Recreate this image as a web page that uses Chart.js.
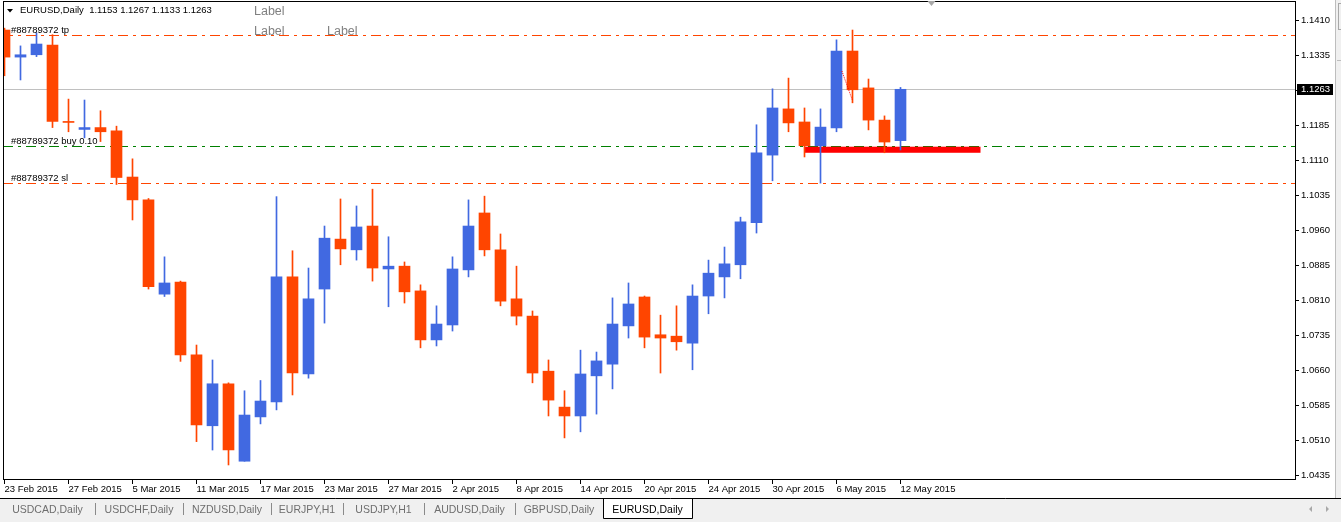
<!DOCTYPE html>
<html>
<head>
<meta charset="utf-8">
<title>EURUSD,Daily</title>
<script src="https://cdn.jsdelivr.net/npm/chart.js@4.4.0/dist/chart.umd.min.js"></script>
<style>
  html, body { margin: 0; padding: 0; background: #fff; }
  #chart { display: block; }
</style>
</head>
<body>
<canvas id="chart" width="1341" height="522"></canvas>
<script>
// ---------------- Data ----------------
const dates = [
  "23 Feb 2015", "24 Feb 2015", "25 Feb 2015", "26 Feb 2015", "27 Feb 2015",
  "2 Mar 2015", "3 Mar 2015", "4 Mar 2015", "5 Mar 2015", "6 Mar 2015",
  "9 Mar 2015", "10 Mar 2015", "11 Mar 2015", "12 Mar 2015", "13 Mar 2015",
  "16 Mar 2015", "17 Mar 2015", "18 Mar 2015", "19 Mar 2015", "20 Mar 2015",
  "23 Mar 2015", "24 Mar 2015", "25 Mar 2015", "26 Mar 2015", "27 Mar 2015",
  "30 Mar 2015", "31 Mar 2015", "1 Apr 2015", "2 Apr 2015", "3 Apr 2015",
  "6 Apr 2015", "7 Apr 2015", "8 Apr 2015", "9 Apr 2015", "10 Apr 2015",
  "13 Apr 2015", "14 Apr 2015", "15 Apr 2015", "16 Apr 2015", "17 Apr 2015",
  "20 Apr 2015", "21 Apr 2015", "22 Apr 2015", "23 Apr 2015", "24 Apr 2015",
  "27 Apr 2015", "28 Apr 2015", "29 Apr 2015", "30 Apr 2015", "1 May 2015",
  "4 May 2015", "5 May 2015", "6 May 2015", "7 May 2015", "8 May 2015",
  "11 May 2015", "12 May 2015"
];

const opens = [
  1.1390, 1.1332, 1.1337, 1.1358, 1.1194, 1.1177, 1.1181, 1.1174, 1.1075, 1.1026,
  1.0824, 1.0850, 1.0694, 1.0542, 1.0632, 1.0466, 1.0561, 1.0593, 1.0861, 1.0653,
  1.0835, 1.0942, 1.0919, 1.0970, 1.0878, 1.0884, 1.0831, 1.0726, 1.0758, 1.0876,
  1.0998, 1.0919, 1.0814, 1.0777, 1.0659, 1.0582, 1.0563, 1.0649, 1.0674, 1.0756,
  1.0818, 1.0737, 1.0734, 1.0719, 1.0820, 1.0861, 1.0887, 1.0977, 1.1122, 1.1221,
  1.1193, 1.1142, 1.1180, 1.1345, 1.1266, 1.1197, 1.1153
];
const highs = [
  1.1394, 1.1356, 1.1384, 1.1380, 1.1242, 1.1240, 1.1217, 1.1184, 1.1114, 1.1029,
  1.0904, 1.0852, 1.0715, 1.0683, 1.0634, 1.0617, 1.0639, 1.1033, 1.0917, 1.0880,
  1.0970, 1.1028, 1.1013, 1.1049, 1.0947, 1.0893, 1.0844, 1.0799, 1.0904, 1.1026,
  1.1034, 1.0953, 1.0884, 1.0788, 1.0683, 1.0617, 1.0704, 1.0700, 1.0816, 1.0848,
  1.0820, 1.0779, 1.0799, 1.0844, 1.0897, 1.0925, 1.0989, 1.1187, 1.1264, 1.1287,
  1.1223, 1.1221, 1.1369, 1.1390, 1.1285, 1.1206, 1.1267
];
const lows = [
  1.1292, 1.1283, 1.1333, 1.1181, 1.1172, 1.1159, 1.1151, 1.1059, 1.0983, 1.0835,
  1.0819, 1.0680, 1.0508, 1.0490, 1.0458, 1.0466, 1.0546, 1.0576, 1.0608, 1.0644,
  1.0762, 1.0887, 1.0897, 1.0852, 1.0797, 1.0805, 1.0709, 1.0713, 1.0745, 1.0861,
  1.0906, 1.0799, 1.0758, 1.0634, 1.0563, 1.0516, 1.0529, 1.0567, 1.0621, 1.0730,
  1.0709, 1.0655, 1.0704, 1.0662, 1.0782, 1.0816, 1.0857, 1.0955, 1.1067, 1.1172,
  1.1118, 1.1062, 1.1172, 1.1234, 1.1176, 1.1127, 1.1133
];
const closes = [
  1.1332, 1.1337, 1.1360, 1.1194, 1.1192, 1.1181, 1.1172, 1.1074, 1.1026, 1.0840,
  1.0848, 1.0694, 1.0544, 1.0632, 1.0490, 1.0565, 1.0595, 1.0861, 1.0655, 1.0814,
  1.0944, 1.0921, 1.0968, 1.0880, 1.0884, 1.0829, 1.0726, 1.0760, 1.0878, 1.0970,
  1.0919, 1.0809, 1.0777, 1.0655, 1.0597, 1.0563, 1.0653, 1.0681, 1.0760, 1.0803,
  1.0732, 1.0730, 1.0722, 1.0820, 1.0869, 1.0889, 1.0979, 1.1127, 1.1223, 1.1191,
  1.1142, 1.1182, 1.1345, 1.1262, 1.1197, 1.1150, 1.1263
];

// price axis labels (1.1260 sits under the last price tag)
const yTicks = [
  1.0435, 1.0510, 1.0585, 1.0660, 1.0735, 1.0810, 1.0885,
  1.0960, 1.1035, 1.1110, 1.1185, 1.1260, 1.1335, 1.1410
];

// order levels
const tpPrice = 1.1379;
const buyPrice = 1.1141;
const slPrice = 1.1062;
const lastPrice = 1.1263;

// rectangle object and trade line (bar index, price)
const boxBars = [50, 61];
const boxPrices = [1.1127, 1.1140];
const tradeBars = [52.34, 52.99];
const tradePrices = [1.1302, 1.1240];

const tabNames = ["USDCAD,Daily", "USDCHF,Daily", "NZDUSD,Daily", "EURJPY,H1",
  "USDJPY,H1", "AUDUSD,Daily", "GBPUSD,Daily", "EURUSD,Daily"];
const tabEdges = [0, 95, 183, 271, 343, 424, 515, 603, 692];

const BULL = "#4169E1";
const BEAR = "#FF4500";
const FONT = "'Liberation Sans', Arial, sans-serif";

const colors = opens.map((o, i) => (closes[i] >= o ? BULL : BEAR));

// ---------------- Overlay drawing ----------------
const overlay = {
  id: "overlay",
  beforeDatasetsDraw(chart) {
    const { ctx, chartArea: a, scales: { x, y } } = chart;
    ctx.save();
    ctx.beginPath();
    ctx.rect(a.left, a.top, a.width, a.height);
    ctx.clip();

    const hLine = (price, color, dash) => {
      const py = Math.round(y.getPixelForValue(price)) + 0.5;
      ctx.strokeStyle = color;
      ctx.lineWidth = 1;
      ctx.setLineDash(dash);
      ctx.beginPath();
      ctx.moveTo(a.left, py);
      ctx.lineTo(a.right, py);
      ctx.stroke();
    };
    hLine(lastPrice, "#C0C0C0", []);
    hLine(tpPrice, "#FF4500", [10, 5, 3, 5]);
    hLine(buyPrice, "#008000", [10, 5, 3, 5]);
    hLine(slPrice, "#FF4500", [10, 5, 3, 5]);
    ctx.setLineDash([]);

    // red rectangle
    const x0 = x.getPixelForValue(boxBars[0]);
    const x1 = x.getPixelForValue(boxBars[1]);
    const y0 = y.getPixelForValue(boxPrices[1]);
    const y1 = y.getPixelForValue(boxPrices[0]);
    ctx.fillStyle = "#FF0000";
    ctx.fillRect(x0, y0, x1 - x0, y1 - y0);
    ctx.restore();
  },
  afterDatasetsDraw(chart) {
    const { ctx, scales: { x, y } } = chart;
    // dotted trade line
    ctx.save();
    ctx.strokeStyle = "#FF0000";
    ctx.setLineDash([1, 1]);
    ctx.beginPath();
    ctx.moveTo(x.getPixelForValue(tradeBars[0]), y.getPixelForValue(tradePrices[0]));
    ctx.lineTo(x.getPixelForValue(tradeBars[1]), y.getPixelForValue(tradePrices[1]));
    ctx.stroke();
    ctx.restore();
  },
  afterDraw(chart) {
    const { ctx, chartArea: a, scales: { y } } = chart;
    const W = chart.width, H = chart.height;
    ctx.save();

    // frame
    ctx.strokeStyle = "#000";
    ctx.lineWidth = 1;
    ctx.strokeRect(a.left + 0.5, a.top + 0.5, a.right - a.left, a.bottom - a.top);

    // title + triangle
    ctx.fillStyle = "#000";
    ctx.beginPath();
    ctx.moveTo(7, 9); ctx.lineTo(13, 9); ctx.lineTo(10, 12.5); ctx.closePath();
    ctx.fill();
    ctx.font = "9.5px " + FONT;
    ctx.textBaseline = "alphabetic";
    ctx.textAlign = "left";
    ctx.fillText("EURUSD,Daily  " + opens[56].toFixed(4) + " " + highs[56].toFixed(4) + " " +
      lows[56].toFixed(4) + " " + closes[56].toFixed(4), 20, 12.5);

    // order labels
    const lbl = (text, price) => ctx.fillText(text, 11, Math.round(y.getPixelForValue(price)) - 2);
    lbl("#88789372 tp", tpPrice);
    lbl("#88789372 buy 0.10", buyPrice);
    lbl("#88789372 sl", slPrice);

    // text objects
    ctx.fillStyle = "#808080";
    ctx.font = "12.5px " + FONT;
    ctx.fillText("Label", 254, 15);
    ctx.fillText("Label", 254, 35);
    ctx.fillText("Label", 327, 35);

    // shift marker
    ctx.fillStyle = "#A8A8A8";
    ctx.beginPath();
    ctx.moveTo(927.5, 1); ctx.lineTo(935.5, 1); ctx.lineTo(931.5, 6); ctx.closePath();
    ctx.fill();

    // last price tag
    const py = Math.round(y.getPixelForValue(lastPrice));
    ctx.fillStyle = "#000";
    ctx.fillRect(1297, py - 5, 36, 11);
    ctx.fillStyle = "#fff";
    ctx.font = "9.5px " + FONT;
    ctx.textBaseline = "middle";
    ctx.fillText(lastPrice.toFixed(4), 1301, py + 0.5);

    // right strip
    ctx.fillStyle = "#F0F0F0";
    ctx.fillRect(1336, 0, W - 1336, 498);
    ctx.strokeStyle = "#BDBDBD";
    ctx.beginPath();
    ctx.moveTo(1335.5, 0); ctx.lineTo(1335.5, 498);
    ctx.moveTo(1337, 60.5); ctx.lineTo(W, 60.5);
    ctx.stroke();
    ctx.strokeStyle = "#A8A8A8";
    ctx.strokeRect(1338.5, 3.5, 6, 26);

    // tab bar
    ctx.fillStyle = "#F0F0F0";
    ctx.fillRect(0, 498, W, H - 498);
    ctx.strokeStyle = "#000";
    ctx.beginPath();
    ctx.moveTo(0, 498.5); ctx.lineTo(W, 498.5);
    ctx.stroke();
    const last = tabNames.length - 1;
    ctx.fillStyle = "#fff";
    ctx.fillRect(tabEdges[last], 499, tabEdges[last + 1] - tabEdges[last], 19);
    ctx.beginPath();
    ctx.moveTo(tabEdges[last] + 0.5, 498); ctx.lineTo(tabEdges[last] + 0.5, 518.5);
    ctx.lineTo(tabEdges[last + 1] + 0.5, 518.5); ctx.lineTo(tabEdges[last + 1] + 0.5, 498);
    ctx.stroke();
    ctx.strokeStyle = "#8A8A8A";
    ctx.beginPath();
    for (let i = 1; i < last; i++) {
      ctx.moveTo(tabEdges[i] + 0.5, 503); ctx.lineTo(tabEdges[i] + 0.5, 515);
    }
    ctx.stroke();
    ctx.font = "10.5px " + FONT;
    ctx.textAlign = "center";
    ctx.textBaseline = "alphabetic";
    tabNames.forEach((t, i) => {
      ctx.fillStyle = i === last ? "#000" : "#6E6E6E";
      ctx.fillText(t, (tabEdges[i] + tabEdges[i + 1]) / 2, 513);
    });

    // scroll arrows
    ctx.fillStyle = "#A8A8A8";
    ctx.beginPath();
    ctx.moveTo(1312, 506); ctx.lineTo(1312, 512); ctx.lineTo(1309, 509); ctx.closePath();
    ctx.moveTo(1326, 506); ctx.lineTo(1326, 512); ctx.lineTo(1329, 509); ctx.closePath();
    ctx.fill();
    ctx.restore();
  }
};

// ---------------- Chart ----------------
const xTickIdx = dates.map((d, i) => i).filter((i) => i % 4 === 0);

new Chart(document.getElementById("chart"), {
  type: "bar",
  data: {
    datasets: [
      {
        label: "Wick",
        data: lows.map((l, i) => ({ x: i, y: [l, highs[i]] })),
        backgroundColor: colors,
        barThickness: 1,
        grouped: false,
        order: 2,
      },
      {
        label: "Body",
        data: opens.map((o, i) => ({ x: i, y: [Math.min(o, closes[i]), Math.max(o, closes[i])] })),
        backgroundColor: colors,
        barThickness: 11,
        minBarLength: 1,
        grouped: false,
        order: 1,
      },
    ],
  },
  options: {
    responsive: false,
    animation: false,
    devicePixelRatio: 1,
    layout: { padding: { left: 3, top: 1, right: 0, bottom: 0 } },
    plugins: { legend: { display: false }, tooltip: { enabled: false } },
    scales: {
      x: {
        type: "linear",
        offset: false,
        min: -0.09375,
        max: 80.65625,
        grid: { offset: false, drawOnChartArea: false, tickLength: 5, color: "#000" },
        border: { display: false },
        ticks: {
          autoSkip: false,
          maxRotation: 0,
          align: "start",
          padding: 0,
          color: "#000",
          font: { family: FONT, size: 9.5 },
          callback: (v) => dates[v] || "",
        },
        afterBuildTicks: (s) => { s.ticks = xTickIdx.map((v) => ({ value: v })); },
        afterFit: (s) => {
          s.height = 43;
          s.paddingLeft = 0;
          s.paddingRight = 0;
        },
      },
      y: {
        type: "linear",
        position: "right",
        min: 1.042793,
        max: 1.145221,
        grid: { drawOnChartArea: false, tickLength: 4, color: "#000" },
        border: { display: false },
        ticks: {
          padding: 2,
          color: "#000",
          font: { family: FONT, size: 9.5 },
          callback: (v) => v.toFixed(4),
        },
        afterBuildTicks: (s) => { s.ticks = yTicks.map((v) => ({ value: v })); },
        afterFit: (s) => {
          s.width = 46;
          s.paddingTop = 0;
          s.paddingBottom = 0;
        },
      },
    },
  },
  plugins: [overlay],
});
</script>
</body>
</html>
